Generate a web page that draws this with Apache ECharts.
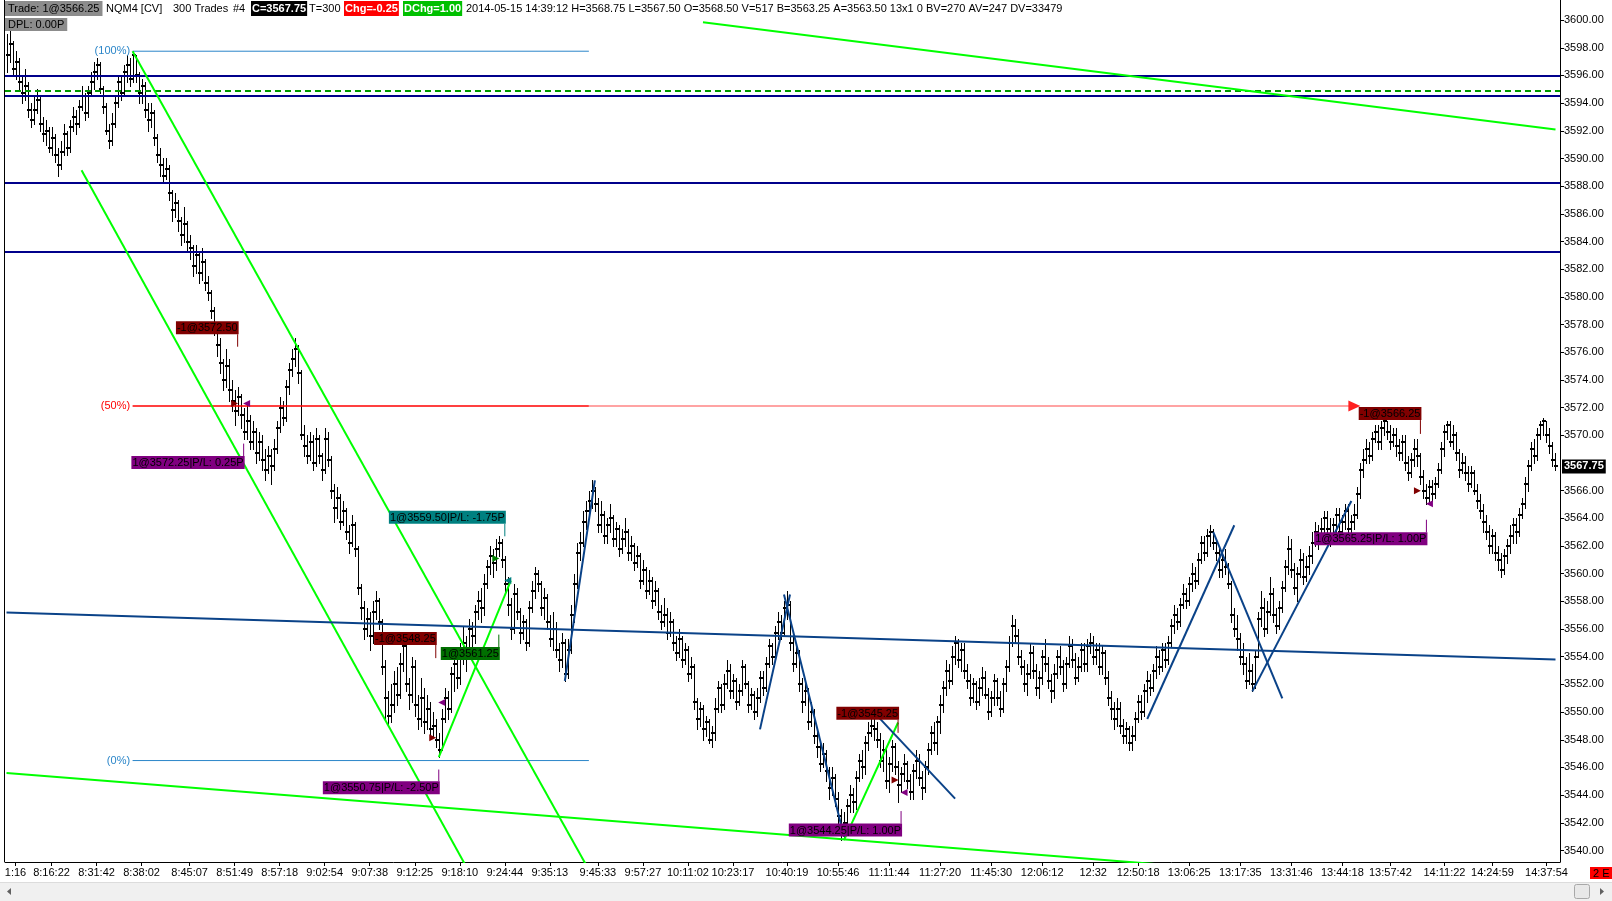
<!DOCTYPE html>
<html><head><meta charset="utf-8">
<script src="https://cdn.jsdelivr.net/npm/echarts@6/dist/echarts.min.js"></script>
<style>html,body{margin:0;padding:0;background:#fff}#c{width:1612px;height:901px}</style>
</head><body><div id="c"></div>
<script>
const closes = [3597.5,3598.25,3596.5,3597,3595.5,3594.75,3595.25,3593.5,3592.75,3593.5,
3594.25,3592.5,3591.75,3592,3590.75,3591.5,3590.25,3589.5,3590.5,3591.75,
3590.75,3592.25,3593,3592.5,3593.75,3594.5,3593.25,3594.75,3595.5,3596.25,
3596.75,3595,3593.75,3592,3591.25,3592.5,3594,3595.5,3594.75,3596.25,
3596.75,3595.75,3597.5,3596,3594.75,3595.25,3593.5,3592.75,3593.25,3591.5,
3590.25,3589.5,3588.75,3589.25,3587.5,3586.25,3586.75,3585.5,3584.5,3585.25,
3584,3583.5,3582.25,3583,3581.75,3582.5,3581,3580.25,3579,3578,
3576.5,3575.25,3574,3575,3573.25,3572.5,3571.75,3572.75,3571.5,3570.25,
3571,3569.5,3570.25,3568.75,3569.5,3568.25,3567.5,3568.5,3567.75,3569,
3570.5,3572,3571.25,3573.5,3574.75,3575.5,3576.25,3574.5,3570,3569.25,
3568.5,3569.5,3568,3569.75,3568.5,3567.5,3569.75,3568.25,3566,3564.75,
3565.5,3563.75,3564.5,3563,3562.25,3563.5,3561.75,3559,3557.5,3556,
3556.75,3555.5,3557.25,3558,3556.5,3553.25,3551,3549.75,3550.5,3552,
3551.25,3553.5,3554.75,3552,3551.25,3553.25,3550.5,3549.5,3551,3549.25,
3550.25,3548.75,3549,3548,3547.25,3549.5,3551,3550.25,3552.75,3553.5,
3552.5,3554.25,3555,3554.25,3556,3555.5,3557.25,3558,3557.5,3559.25,
3560.5,3561.25,3560.75,3561.75,3562.25,3561,3559.25,3557.75,3556,3558.5,
3557.25,3555.75,3556.5,3555,3557.5,3558.75,3560,3559.25,3557.5,3558.25,
3556.5,3555.25,3556,3554.5,3553.75,3555,3552.75,3554.5,3557,3559.25,
3561.5,3562.25,3563.75,3564.5,3565.25,3566,3565,3563.5,3564.25,3562.75,
3563.5,3564,3562.5,3563.25,3561.75,3562.5,3563,3561.5,3562,3560.75,
3561.25,3559.5,3560.25,3558.75,3559.5,3558,3558.75,3557.25,3556.5,3557,
3555.75,3556.5,3555,3554.25,3555.25,3553.75,3554.5,3552.75,3553.25,3550.75,
3549.5,3550.25,3548.75,3549.25,3548,3548.5,3550.25,3551.75,3550.5,3552,
3553,3551.5,3552.25,3550.75,3551.5,3553.25,3552,3550.5,3551.25,3550,
3551,3552.5,3551.75,3553.5,3554.75,3554,3555.75,3556.5,3555.75,3557.5,
3557.75,3555,3553.5,3554.25,3552,3550.75,3551.5,3549.25,3550,3548.25,
3547.5,3546.25,3547,3545.75,3544.5,3545.25,3543.75,3542.5,3541.25,3542,
3543.25,3544,3543.5,3545.25,3546.5,3546,3547.75,3548.5,3549,3548.75,
3548,3546.5,3547.25,3545,3546.25,3547.5,3546,3544.75,3545.5,3546.25,
3545,3544.25,3545.75,3546.5,3545.25,3544.5,3546,3547.25,3548.5,3547.75,
3549.25,3550.5,3551.75,3553,3552.25,3554,3555,3553.75,3554.5,3553,
3552.25,3551,3552,3550.75,3551.75,3552.5,3551.25,3550,3551,3552.25,
3551,3550.25,3552,3553.25,3555,3556.25,3555.5,3554,3553.25,3552,
3552.75,3554.25,3553,3551.75,3552.5,3554,3553.5,3552.25,3551.5,3552.75,
3554,3553.25,3552,3553.5,3554.75,3553.75,3552.5,3553.25,3554.5,3553.5,
3554.75,3555,3554,3554.5,3553.25,3554.25,3552.5,3551,3550.25,3549.5,
3550.25,3549,3548.25,3548.75,3547.75,3548.25,3549.5,3550.75,3550,3551.5,
3552.25,3551.75,3553,3554,3553.25,3554.5,3553.75,3555,3556.25,3557,
3556.5,3557.75,3558.5,3558,3559.25,3560,3559.5,3561,3562.25,3561.5,
3562.75,3563,3562.25,3561.5,3560.25,3561,3560.5,3559.25,3557,3556,
3555.25,3554,3553.5,3552.25,3553,3552,3554,3556.75,3557.5,3556,
3557.25,3558.5,3557,3556.25,3557.5,3559,3560.5,3561.75,3560.25,3559,
3560,3561,3559.75,3560.5,3561.25,3562.25,3563,3562.5,3563.25,3564,
3563.25,3562.75,3563.5,3564.25,3563,3563.75,3564.5,3563.25,3563.75,3564.25,
3565.75,3567.5,3568.25,3569,3568.5,3569.75,3570.25,3569.5,3570.5,3571,
3570.25,3569.5,3570,3569.25,3568.75,3569.5,3568,3567.25,3568.25,3569,
3568.5,3567,3566,3565.5,3566.25,3565.75,3566.5,3567.5,3569,3570.25,
3570.75,3569.5,3570,3568.75,3567.5,3568,3567.25,3566.5,3567.25,3566,
3565.25,3564.5,3563.75,3563,3562,3562.75,3561.5,3561,3560.25,3561.25,
3562,3562.75,3563.5,3563,3564.25,3565,3566.5,3567.75,3569,3568.5,
3570,3570.75,3571,3570,3569.25,3568.25,3567.75];

const highs = [3599,3599.25,3598.5,3597.75,3597.25,3596,3596.5,3595.5,3594,3594.5,
3595,3594.5,3593,3592.75,3592.25,3592.25,3591.75,3590.75,3591.25,3592.5,
3592,3592.75,3593.75,3593.5,3594.25,3595.25,3594.75,3595.25,3596.25,3597,
3597.25,3597,3595.25,3594,3592.5,3593.25,3594.5,3596,3596,3596.75,
3597.5,3597.25,3597.75,3597.5,3596.25,3595.75,3595.5,3594,3594,3593.5,
3591.75,3590.75,3590,3590,3589.5,3587.75,3587.5,3587,3585.75,3586.5,
3585.5,3584.5,3583.75,3583.75,3583.25,3583.5,3582.75,3581.5,3580.5,3579.25,
3578,3577,3575.5,3576.25,3575.5,3574,3573.25,3573.5,3573,3572,
3572.25,3571.5,3571,3570.5,3570.25,3570,3569,3569.25,3569,3569.75,
3571,3572.75,3572.5,3574,3575.25,3576.25,3577,3576.5,3574.75,3570.75,
3570,3570.25,3570,3570.5,3570,3568.75,3570.5,3570.25,3568.5,3566.5,
3566.25,3565.75,3565.25,3564.75,3563.5,3564.25,3563.75,3562,3559.25,3558,
3557.5,3557.25,3558,3558.75,3558.25,3556.75,3553.75,3551.5,3552,3553,
3553.25,3554.25,3555.75,3555,3552.5,3554,3553.75,3551.25,3552.5,3551.75,
3551.25,3550.75,3550,3549.5,3548.5,3550.25,3551.75,3551.5,3553.25,3554,
3554.5,3555,3556.25,3555.5,3556.75,3556.5,3557.75,3558.75,3559,3560,
3561,3562,3561.75,3562.5,3562.75,3562.5,3561.25,3559.75,3558.25,3559.25,
3559,3557.5,3557,3556.75,3558,3559.5,3560.5,3560.25,3559.5,3559,
3558.5,3557,3557.25,3556.5,3555,3555.75,3555.25,3555.25,3557.75,3560,
3562.25,3563,3564.5,3565.25,3566,3566.75,3566.25,3565.5,3565.25,3564.5,
3564,3565,3564.25,3563.75,3563.5,3563.25,3564,3563.25,3562.75,3562.25,
3562,3561.5,3561,3560.5,3560.25,3559.75,3559.5,3559,3557.75,3558.25,
3557.5,3557.25,3556.75,3555.5,3556,3555.5,3555,3554.75,3554,3553.5,
3551,3550.75,3550.5,3549.75,3549.5,3549,3551,3552.25,3552,3552.75,
3553.75,3553.5,3552.75,3552.5,3552,3553.75,3553.5,3552.25,3551.75,3551.5,
3551.75,3553,3553,3554,3555.25,3555,3556.25,3557.25,3557,3558,
3558.75,3558,3555.5,3555,3554.5,3552.5,3552.25,3551.75,3550.75,3550.25,
3548.75,3548,3547.75,3547.25,3546,3546,3545.5,3544.25,3543,3542.75,
3543.75,3544.75,3544.5,3545.75,3547,3547.25,3548.25,3549.25,3549.5,3549.5,
3549.25,3548.5,3548,3547.5,3546.75,3548,3547.75,3546.5,3546,3547,
3546.5,3545.5,3546.25,3547.25,3547,3545.75,3546.5,3547.75,3549,3549.25,
3549.75,3551.25,3552.25,3553.75,3553.5,3554.75,3555.5,3555.25,3555,3555,
3553.5,3552.75,3552.5,3552.25,3552.5,3553.25,3553,3551.75,3551.5,3552.75,
3552.5,3551.5,3552.5,3553.75,3555.5,3557,3556.75,3556,3554.5,3553.75,
3553.5,3555,3554.75,3553.5,3553,3554.5,3555.25,3554,3552.75,3553.5,
3554.5,3554.75,3553.75,3554,3555.5,3555.25,3554.25,3554,3555,3555,
3555.25,3555.75,3555.5,3555,3555,3554.75,3554.5,3553,3551.5,3550.75,
3551,3550.75,3549.5,3549.25,3549,3549,3550,3551.25,3551.25,3552,
3553,3552.75,3553.5,3554.75,3554.5,3555,3555,3555.5,3556.75,3557.75,
3557.5,3558.25,3559.25,3559,3559.75,3560.75,3560.5,3561.5,3562.75,3562.75,
3563.25,3563.5,3563.25,3562.5,3562,3561.5,3561.75,3560.75,3559.5,3557.5,
3557,3555.75,3555,3554,3554.25,3553.5,3554.5,3557.25,3558.75,3558.25,
3558,3559.75,3559,3557.5,3558,3559.5,3561,3562.75,3562.5,3560.75,
3560.5,3561.75,3561.5,3561.25,3562,3563,3563.75,3563.5,3564,3564.5,
3564.5,3564,3564,3564.75,3564.75,3564.25,3565,3565,3564.25,3565,
3566.25,3568,3569,3569.75,3569.5,3570.25,3570.75,3570.75,3571,3571.25,
3571,3570.75,3570.5,3570.5,3569.75,3570,3570,3568.5,3568.75,3569.75,
3569.75,3568.75,3567.5,3566.5,3566.75,3566.75,3567,3568,3569.5,3570.75,
3571,3571,3570.75,3570.25,3569,3568.75,3568.5,3567.75,3567.75,3567.5,
3566.5,3565.75,3565,3564.25,3563.5,3563.25,3563,3562,3561.5,3561.75,
3562.5,3563.5,3564,3564,3564.75,3565.5,3567,3568.25,3569.5,3569.75,
3570.5,3571,3571.25,3571,3570.5,3569.5,3568.75];

const lows = [3596.25,3597,3596,3595.75,3595,3594,3594.25,3593,3592.25,3592.5,
3593.25,3592,3591.25,3591,3590.5,3590.25,3589.75,3588.75,3589.25,3590.25,
3590.25,3590.5,3592,3591.75,3592.25,3593.5,3592.75,3593,3594.5,3595,
3595.75,3594.75,3593.25,3591.75,3590.75,3591,3592.25,3593.75,3594.25,3594.5,
3595.5,3595.25,3595.5,3595.5,3594,3594,3593,3592,3592.25,3591,
3589.75,3588.75,3588.25,3588.5,3587,3585.5,3585.75,3584.75,3583.75,3584,
3583.25,3582.75,3581.5,3581.75,3581,3581.25,3580.5,3579.75,3578.5,3577.25,
3575.75,3574.5,3573.25,3573.5,3572.5,3571.75,3570.75,3571.5,3570.5,3569.75,
3569.75,3569,3569,3568,3568.25,3567.5,3566.75,3567.25,3566.5,3567.5,
3568.75,3570.25,3570.75,3571,3573,3574.25,3575,3573.75,3569.75,3568.5,
3568,3568.25,3567.5,3567.75,3568,3566.75,3567.25,3567.75,3565.5,3563.75,
3564,3563.25,3563.5,3562.5,3561.5,3562,3561.25,3558.5,3556.75,3555.25,
3555.5,3554.5,3555,3556.75,3556,3552.75,3549.5,3549,3549.25,3550,
3550.5,3551,3553,3551.5,3550.25,3550.75,3549.75,3548.75,3549,3548.5,
3548.75,3548.25,3548.25,3547.5,3546.75,3547.25,3549.25,3549.5,3550,3551.5,
3551.75,3552,3553.5,3553,3554,3554.75,3555,3556.75,3556.5,3557,
3559,3560,3559.75,3560.25,3561.25,3560.5,3558.75,3557,3555.25,3555.75,
3556.75,3555,3555.25,3554.5,3554.75,3557.25,3558.25,3558.75,3557,3556.75,
3556,3554.75,3554.5,3554,3553,3553.25,3552.25,3552.5,3554.25,3556.5,
3559,3561,3562,3563.25,3564,3564.75,3564.5,3563,3563,3562.25,
3562.25,3563,3562,3562,3561.25,3561.5,3562,3561,3561,3560.25,
3560.5,3559,3559.25,3558.25,3558.5,3557.5,3557.75,3556.75,3556,3556.25,
3555.25,3555.5,3554.5,3553.75,3554,3553.25,3553.5,3552.25,3552.5,3550.25,
3548.75,3549,3548,3548.25,3547.75,3547.5,3548,3550,3550,3550.25,
3551.75,3551,3551,3550.25,3550.5,3551.25,3551.75,3550,3550.25,3549.5,
3549.75,3550.75,3551.25,3551.5,3553.25,3553.5,3553.75,3555.25,3555.25,3555.5,
3556.75,3554.5,3553,3553.25,3551.5,3550,3550.5,3548.75,3549,3547.75,
3546.75,3545.75,3546,3545,3543.75,3544,3543.25,3541.75,3540.75,3541,
3541.5,3542.75,3542.75,3543,3545,3545.25,3545.5,3547.25,3548.25,3548,
3547.5,3546,3545.75,3544.5,3544.25,3545.75,3545.5,3543.5,3544.25,3545,
3544.5,3543.75,3543.75,3545.25,3544.75,3543.75,3544.25,3545.5,3547,3547.25,
3547,3548.5,3550,3551.25,3551.75,3552,3553.5,3553.25,3553,3552.5,
3551.75,3550.5,3550.75,3550.25,3550.5,3551.25,3551,3549.5,3549.75,3550.5,
3550.5,3549.75,3550,3551.5,3553,3554.75,3555,3553.5,3552.75,3551.5,
3551.25,3552.5,3552.5,3551.25,3551,3552,3553,3551.75,3550.75,3551,
3552.5,3552.75,3551.5,3551.75,3553.25,3553.25,3552,3552.25,3553,3553,
3553,3554.25,3553.5,3553.5,3552.75,3552.75,3552,3550.5,3549.5,3548.75,
3549,3548.5,3547.75,3547.75,3547.25,3547.25,3548,3549.25,3549.5,3549.75,
3550.75,3551.25,3551.5,3552.5,3552.75,3553,3553.25,3553.5,3554.75,3555.75,
3556,3556.25,3557.5,3557.5,3557.75,3558.75,3559,3559.25,3560.75,3561,
3561.25,3562,3561.75,3561,3559.75,3559.75,3560,3559,3556.5,3555.5,
3554.5,3553.5,3552.75,3551.75,3552,3551.5,3551.75,3554,3556.25,3555.5,
3555.75,3557,3556.5,3555.75,3556,3557.25,3558.75,3560,3559.75,3558.5,
3558,3559.75,3559.25,3559.5,3560,3560.75,3562,3561.75,3562.25,3562.75,
3562.75,3562,3562.25,3563,3562.5,3562.75,3563.25,3562.75,3562.5,3563.25,
3564,3565.5,3567,3568,3568,3568.25,3569.5,3569,3569,3570,
3569.75,3569,3569.25,3568.5,3568.25,3568.25,3567.5,3566.75,3567,3567.75,
3567.75,3566.5,3565.5,3565,3565,3565.25,3565.5,3566.25,3567.25,3568.5,
3569.75,3569.25,3569,3568.25,3567,3567.25,3566.75,3566,3566.25,3565.75,
3564.75,3564,3563,3562.5,3561.5,3561.5,3561,3560.25,3559.75,3560,
3560.75,3561.5,3562.25,3562.25,3562.75,3564,3564.75,3566,3567.5,3568,
3568.25,3569.75,3570,3569.5,3568.75,3567.75,3567.5];

const tickIndex = [3,15,30,45,61,76,91,106,121,136,151,166,181,197,212,227,242,260,277,294,311,328,345,362,377,394,411,428,445,461,479,495,513];
const tickLabels = ['1:16','8:16:22','8:31:42','8:38:02','8:45:07','8:51:49','8:57:18','9:02:54','9:07:38','9:12:25','9:18:10','9:24:44','9:35:13','9:45:33','9:57:27','10:11:02','10:23:17','10:40:19','10:55:46','11:11:44','11:27:20','11:45:30','12:06:12','12:32','12:50:18','13:06:25','13:17:35','13:31:46','13:44:18','13:57:42','14:11:22','14:24:59','14:37:54'];
const priceTicks = [3540,3542,3544,3546,3548,3550,3552,3554,3556,3558,3560,3562,3564,3566,3570,3572,3574,3576,3578,3580,3582,3584,3586,3588,3590,3592,3594,3596,3598,3600];
const categoryCount = 518;

const navyLevels = [3596.0, 3594.5, 3588.25, 3583.25];
const dashedLevel = 3594.9;

const fibNames = ['(100%)', '(50%)', '(0%)'];
const fibPrices = [3597.75, 3572.125, 3546.5];
const fibColors = ['#2b86c9', '#ff0000', '#2b86c9'];
const fibFrom = 42, fibTo = 194, fibExtTo = 448;

const greenLines = [
  [[232, 3599.85], [516, 3592.1]],
  [[25, 3589.15], [154, 3538.5]],
  [[42, 3597.75], [194, 3538.6]],
  [[144, 3546.75], [168, 3559.5]],
  [[0, 3545.6], [384, 3539.0]],
  [[279, 3540.75], [297, 3549.25]]
];
const navyLines = [
  [[0, 3557.2], [516, 3553.8]],
  [[186, 3552.25], [196, 3566.75]],
  [[251, 3548.75], [261, 3558.5]],
  [[259, 3558.5], [279, 3541.0]],
  [[290, 3549.75], [316, 3543.75]],
  [[380, 3549.5], [409, 3563.5]],
  [[402, 3563.0], [425, 3551.0]],
  [[415, 3551.5], [448, 3565.25]]
];

const tradeTexts = ['-1@3572.50','1@3572.25|P/L: 0.25P','1@3559.50|P/L: -1.75P','-1@3548.25','1@3561.25','1@3550.75|P/L: -2.50P','-1@3545.25','1@3544.25|P/L: 1.00P','-1@3566.25','1@3565.25|P/L: 1.00P'];
const tradeColors = ['#800000','#800080','#008080','#800000','#006f00','#800080','#800000','#800080','#800000','#800080'];
const tradeIndex = [77,79,166,143,164,144,297,298,471,473];
const tradeBoxPrice = [3577.3,3568.5,3563.6,3554.85,3554.7,3545.0,3549.45,3541.95,3571.1,3563.0];
const tradeMarkPrice = [3576.4,3569.4,3562.7,3553.9,3555.6,3545.85,3548.5,3542.85,3570.1,3563.9];

const execIndex = [76,80,142,145,163,167,296,299,470,474];
const execPrice = [3572.3,3572.3,3548.15,3550.7,3561.1,3559.5,3545.1,3544.2,3566.0,3565.05];
const execColors = ['#800000','#800080','#800000','#800080','#008000','#008080','#800000','#800080','#800000','#800080'];
const execRight = [true,false,true,false,true,false,true,false,true,false];

const lastPrice = 3567.75;

const FONT = '"Liberation Sans", Arial, sans-serif';
const chart = echarts.init(document.getElementById('c'));
const categories = Array.from({length: categoryCount}, (_, i) => {
  const k = tickIndex.indexOf(i);
  return k >= 0 ? tickLabels[k] : '#' + i;
});
const barData = closes.map((c, i) => [i, lows[i], highs[i], c]);

const series = [];
series.push({
  type: 'custom', name: 'bars', data: barData, clip: true, z: 2,
  encode: {x: 0, y: [1, 2, 3]},
  renderItem: function (params, api) {
    const x = api.value(0);
    const lo = Math.min(api.value(1), api.value(3));
    const hi = Math.max(api.value(2), api.value(3));
    const pLo = api.coord([x, lo]);
    const pHi = api.coord([x, hi]);
    const pC = api.coord([x, api.value(3)]);
    const cx = Math.round(pLo[0]) + 0.5;
    return {type: 'group', children: [
      {type: 'line', shape: {x1: cx, y1: Math.round(pHi[1]), x2: cx, y2: Math.round(pLo[1]) + 1}, style: {stroke: '#000', lineWidth: 1}},
      {type: 'rect', shape: {x: cx - 1.5, y: Math.round(pC[1]) - 1, width: 4, height: 2}, style: {fill: '#000'}}
    ]};
  },
  markLine: {
    silent: true, symbol: ['none', 'none'], label: {show: false}, animation: false,
    data: navyLevels.map(v => ({yAxis: v, lineStyle: {color: '#00008b', width: 2, type: 'solid'}}))
      .concat([{yAxis: dashedLevel, lineStyle: {color: '#009a00', width: 2, type: [6, 4]}}])
  }
});

function seg(data, color, width, z) {
  return {type: 'line', data: data, symbol: 'none', silent: true, z: z || 4, clip: true,
    lineStyle: {color: color, width: width}, animation: false};
}
fibPrices.forEach((p, k) => {
  series.push(seg([[fibFrom, p], [fibTo, p]], fibColors[k], k === 1 ? 1.5 : 1, 3));
});
series.push(seg([[fibTo, fibPrices[1]], [fibExtTo, fibPrices[1]]], '#ff8585', 1.5, 3));
greenLines.forEach(l => series.push(seg(l, '#00ff00', 2, 5)));
navyLines.forEach(l => series.push(seg(l, '#0a4288', 2, 5)));
tradeTexts.forEach((t, k) => {
  series.push(seg([[tradeIndex[k], tradeBoxPrice[k]], [tradeIndex[k], tradeMarkPrice[k]]], tradeColors[k], 1, 6));
});
series.push({
  type: 'scatter', symbolSize: 1, itemStyle: {color: 'rgba(0,0,0,0)', opacity: 1}, z: 8, silent: true, animation: false,
  data: tradeTexts.map((t, k) => {
    const above = tradeBoxPrice[k] >= tradeMarkPrice[k];
    return {
      value: [tradeIndex[k], tradeBoxPrice[k]],
      label: {show: true, formatter: t, position: [1.5, 0.5], align: 'right',
        verticalAlign: above ? 'bottom' : 'top', color: '#000', fontFamily: FONT, fontSize: 11,
        backgroundColor: tradeColors[k], padding: [1, 1, 0, 1], lineHeight: 12, opacity: 1}
    };
  })
});
series.push({
  type: 'scatter', symbol: 'triangle', symbolSize: [7, 7], z: 7, silent: true, animation: false,
  itemStyle: {opacity: 1},
  data: execIndex.map((x, k) => ({value: [x, execPrice[k]], symbolRotate: execRight[k] ? -90 : 90,
    itemStyle: {color: execColors[k], opacity: 1}}))
});
series.push({
  type: 'scatter', symbol: 'triangle', symbolSize: [11, 12], z: 7, silent: true, animation: false,
  data: [{value: [fibExtTo + 1, fibPrices[1]], symbolRotate: -90, itemStyle: {color: '#ff2020', opacity: 1}}]
});
series.push({
  type: 'scatter', symbolSize: 1, itemStyle: {color: 'rgba(0,0,0,0)', opacity: 1}, z: 7, silent: true, animation: false,
  data: fibPrices.map((p, k) => ({value: [fibFrom, p], label: {show: true, formatter: fibNames[k], position: 'left',
    distance: 2, color: fibColors[k], fontFamily: FONT, fontSize: 11}}))
});
series.push({
  type: 'scatter', symbolSize: 1, itemStyle: {color: 'rgba(0,0,0,0)', opacity: 1}, z: 9, silent: true, animation: false,
  data: [{value: [516, lastPrice], label: {show: true, formatter: lastPrice.toFixed(2), position: 'right', distance: 6,
    color: '#fff', fontWeight: 'bold', fontFamily: FONT, fontSize: 11, backgroundColor: '#000', padding: [1, 2, 0, 2], lineHeight: 13}}]
});

function txt(x, y, s, opts) {
  return Object.assign({type: 'text', x: x, y: y, z: 100, silent: true,
    style: Object.assign({text: s, fill: '#000', font: '11px ' + FONT, verticalAlign: 'top', textVerticalAlign: 'top'}, opts || {})});
}
const graphic = [
  {type: 'line', shape: {x1: 4.5, y1: 0, x2: 4.5, y2: 862}, style: {stroke: '#000', lineWidth: 1}, z: 50, silent: true},
  txt(5, 1, 'Trade: 1@3566.25', {backgroundColor: '#8c8c8c', padding: [2, 3, 2, 3]}),
  txt(106, 3, 'NQM4 [CV]'),
  txt(173, 3, '300 Trades'),
  txt(233, 3, '#4'),
  txt(251, 1, 'C=3567.75', {backgroundColor: '#000', fill: '#fff', font: 'bold 11px ' + FONT, padding: [2, 1, 2, 1]}),
  txt(309, 3, 'T=300'),
  txt(344, 1, 'Chg=-0.25', {backgroundColor: '#ff0000', fill: '#fff', font: 'bold 11px ' + FONT, padding: [2, 1, 2, 1]}),
  txt(403, 1, 'DChg=1.00', {backgroundColor: '#00c000', fill: '#fff', font: 'bold 11px ' + FONT, padding: [2, 1, 2, 1]}),
  txt(466, 3, '2014-05-15 14:39:12 H=3568.75 L=3567.50 O=3568.50 V=517 B=3563.25 A=3563.50 13x1 0 BV=270 AV=247 DV=33479'),
  txt(5, 18, 'DPL: 0.00P', {backgroundColor: '#8c8c8c', padding: [1, 3, 1, 3]}),
  txt(1590, 867, '2 E', {backgroundColor: '#ff0000', padding: [1, 3, 0, 3]}),
  {type: 'rect', shape: {x: 0, y: 882, width: 1612, height: 19}, style: {fill: '#f0f0f0'}, z: 40, silent: true},
  {type: 'line', shape: {x1: 0, y1: 882.5, x2: 1612, y2: 882.5}, style: {stroke: '#dcdcdc', lineWidth: 1}, z: 41, silent: true},
  {type: 'polygon', shape: {points: [[11, 888], [11, 895], [7, 891.5]]}, style: {fill: '#606060'}, z: 41, silent: true},
  {type: 'polygon', shape: {points: [[1600, 888], [1600, 895], [1604, 891.5]]}, style: {fill: '#606060'}, z: 41, silent: true},
  {type: 'rect', shape: {x: 1574.5, y: 884.5, width: 15, height: 14, r: 2}, style: {fill: '#e8e8e8', stroke: '#a8a8a8', lineWidth: 1}, z: 41, silent: true}
];

chart.setOption({
  animation: false,
  backgroundColor: '#fff',
  grid: {left: 5, right: 52, top: 0, bottom: 39, containLabel: false},
  xAxis: {
    type: 'category', data: categories, boundaryGap: true,
    axisLine: {show: true, lineStyle: {color: '#000', width: 1}},
    axisTick: {show: true, alignWithLabel: true, length: 4, lineStyle: {color: '#000'}, interval: (i) => tickIndex.includes(i)},
    axisLabel: {interval: (i) => tickIndex.includes(i), color: '#000', fontFamily: FONT, fontSize: 11, margin: 5, hideOverlap: false},
    splitLine: {show: false}
  },
  yAxis: {
    type: 'value', position: 'right', min: 3539.17, max: 3601.45, scale: true,
    axisLine: {show: true, lineStyle: {color: '#000', width: 1}},
    axisTick: {show: true, length: 4, lineStyle: {color: '#000'}, customValues: priceTicks},
    axisLabel: {color: '#000', fontFamily: FONT, fontSize: 11, margin: 4, customValues: priceTicks, formatter: v => v.toFixed(2)},
    splitLine: {show: false}
  },
  series: series,
  graphic: graphic
});
</script>
</body></html>
